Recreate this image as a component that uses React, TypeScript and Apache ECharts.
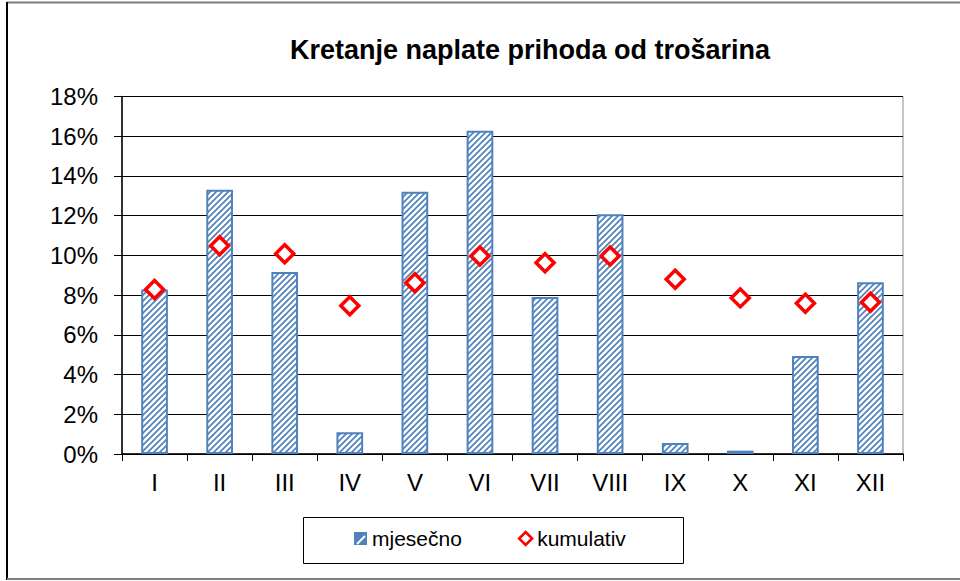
import React, { useEffect, useRef } from "react";
import * as echarts from "echarts";

const categories = ["I", "II", "III", "IV", "V", "VI", "VII", "VIII", "IX", "X", "XI", "XII"];
const mjesecno = [8.28, 13.3, 9.16, 1.1, 13.2, 16.28, 7.9, 12.07, 0.56, 0.17, 4.93, 8.65];
const kumulativ = [8.28, 10.49, 10.08, 7.46, 8.62, 9.97, 9.63, 9.97, 8.8, 7.86, 7.59, 7.64];
const yTicks = { min: 0, max: 18, interval: 2 };

function makeHatch(bg: string, fg: string, s: number, lw: number): HTMLCanvasElement {
  const c = document.createElement("canvas");
  c.width = s;
  c.height = s;
  const ctx = c.getContext("2d")!;
  ctx.fillStyle = bg;
  ctx.fillRect(0, 0, s, s);
  ctx.strokeStyle = fg;
  ctx.lineWidth = lw;
  ctx.beginPath();
  ctx.moveTo(-1, s + 1);
  ctx.lineTo(s + 1, -1);
  ctx.moveTo(-1, 1);
  ctx.lineTo(1, -1);
  ctx.moveTo(s - 1, s + 1);
  ctx.lineTo(s + 1, s - 1);
  ctx.stroke();
  return c;
}

export default function App() {
  const ref = useRef<HTMLDivElement>(null);
  useEffect(() => {
    if (!ref.current) return;
    const chart = echarts.init(ref.current, null, { renderer: "svg" });
    const hatch = makeHatch("#ffffff", "#4F81BD", 6, 1.7);
    const font = "'Liberation Sans', Arial, sans-serif";
    chart.setOption({
      animation: false,
      backgroundColor: "#ffffff",
      title: {
        text: "Kretanje naplate prihoda od trošarina",
        left: 525,
        textAlign: "center",
        top: 31,
        textStyle: { fontFamily: font, fontWeight: "bold", fontSize: 27, color: "#000" },
      },
      grid: {
        left: 122,
        right: 57,
        top: 96.5,
        bottom: 127,
        show: true,
        borderColor: "#8c8c8c",
        borderWidth: 1,
      },
      legend: {
        left: 354,
        top: 528,
        padding: 0,
        itemGap: 56,
        itemWidth: 13,
        itemHeight: 13,
        textStyle: { fontFamily: font, fontSize: 21, color: "#000" },
        data: [
          { name: "mjesečno", icon: "rect", itemStyle: { color: "#4F81BD", borderWidth: 0 } },
          { name: "kumulativ", icon: "diamond", itemStyle: { color: "#fff", borderColor: "#FF0000", borderWidth: 2.5 } },
        ],
      },
      graphic: [
        { type: "rect", shape: { x: 303.5, y: 517.5, width: 380, height: 46 }, style: { fill: "none", stroke: "#000", lineWidth: 1 }, z: -1 },
        { type: "line", shape: { x1: 357, y1: 544, x2: 365, y2: 536 }, style: { stroke: "#fff", lineWidth: 2 }, z: 100 },
        { type: "line", shape: { x1: 7, y1: 2.5, x2: 960, y2: 2.5 }, style: { stroke: "#7f7f7f", lineWidth: 2 } },
        { type: "line", shape: { x1: 7, y1: 2, x2: 7, y2: 580 }, style: { stroke: "#000", lineWidth: 2 } },
        { type: "line", shape: { x1: 7, y1: 579, x2: 960, y2: 579 }, style: { stroke: "#7f7f7f", lineWidth: 2 } },
      ],
      xAxis: {
        type: "category",
        data: categories,
        boundaryGap: true,
        axisLine: { lineStyle: { color: "#000", width: 1.5 } },
        axisTick: { show: true, length: 7, lineStyle: { color: "#000", width: 1 } },
        axisLabel: { margin: 16, fontFamily: font, fontSize: 24, color: "#000" },
      },
      yAxis: {
        type: "value",
        min: yTicks.min,
        max: yTicks.max,
        interval: yTicks.interval,
        axisLine: { show: true, lineStyle: { color: "#000", width: 1.5 } },
        axisTick: { show: true, length: 8, lineStyle: { color: "#000" } },
        axisLabel: { margin: 24, fontFamily: font, fontSize: 24, color: "#000", formatter: "{value}%" },
        splitLine: { show: true, lineStyle: { color: "#000", width: 1 } },
      },
      series: [
        {
          name: "mjesečno",
          type: "bar",
          data: mjesecno,
          barWidth: "41%",
          itemStyle: {
            color: { image: hatch, repeat: "repeat" },
            borderColor: "#4F81BD",
            borderWidth: 2,
          },
        },
        {
          name: "kumulativ",
          type: "scatter",
          data: kumulativ,
          symbol: "diamond",
          symbolSize: 18,
          itemStyle: { color: "#fff", borderColor: "#FF0000", borderWidth: 3.5, opacity: 1 },
          z: 5,
        },
      ],
    });
    return () => chart.dispose();
  }, []);
  return <div ref={ref} style={{ width: 960, height: 581, position: "absolute", left: 0, top: 0 }} />;
}
